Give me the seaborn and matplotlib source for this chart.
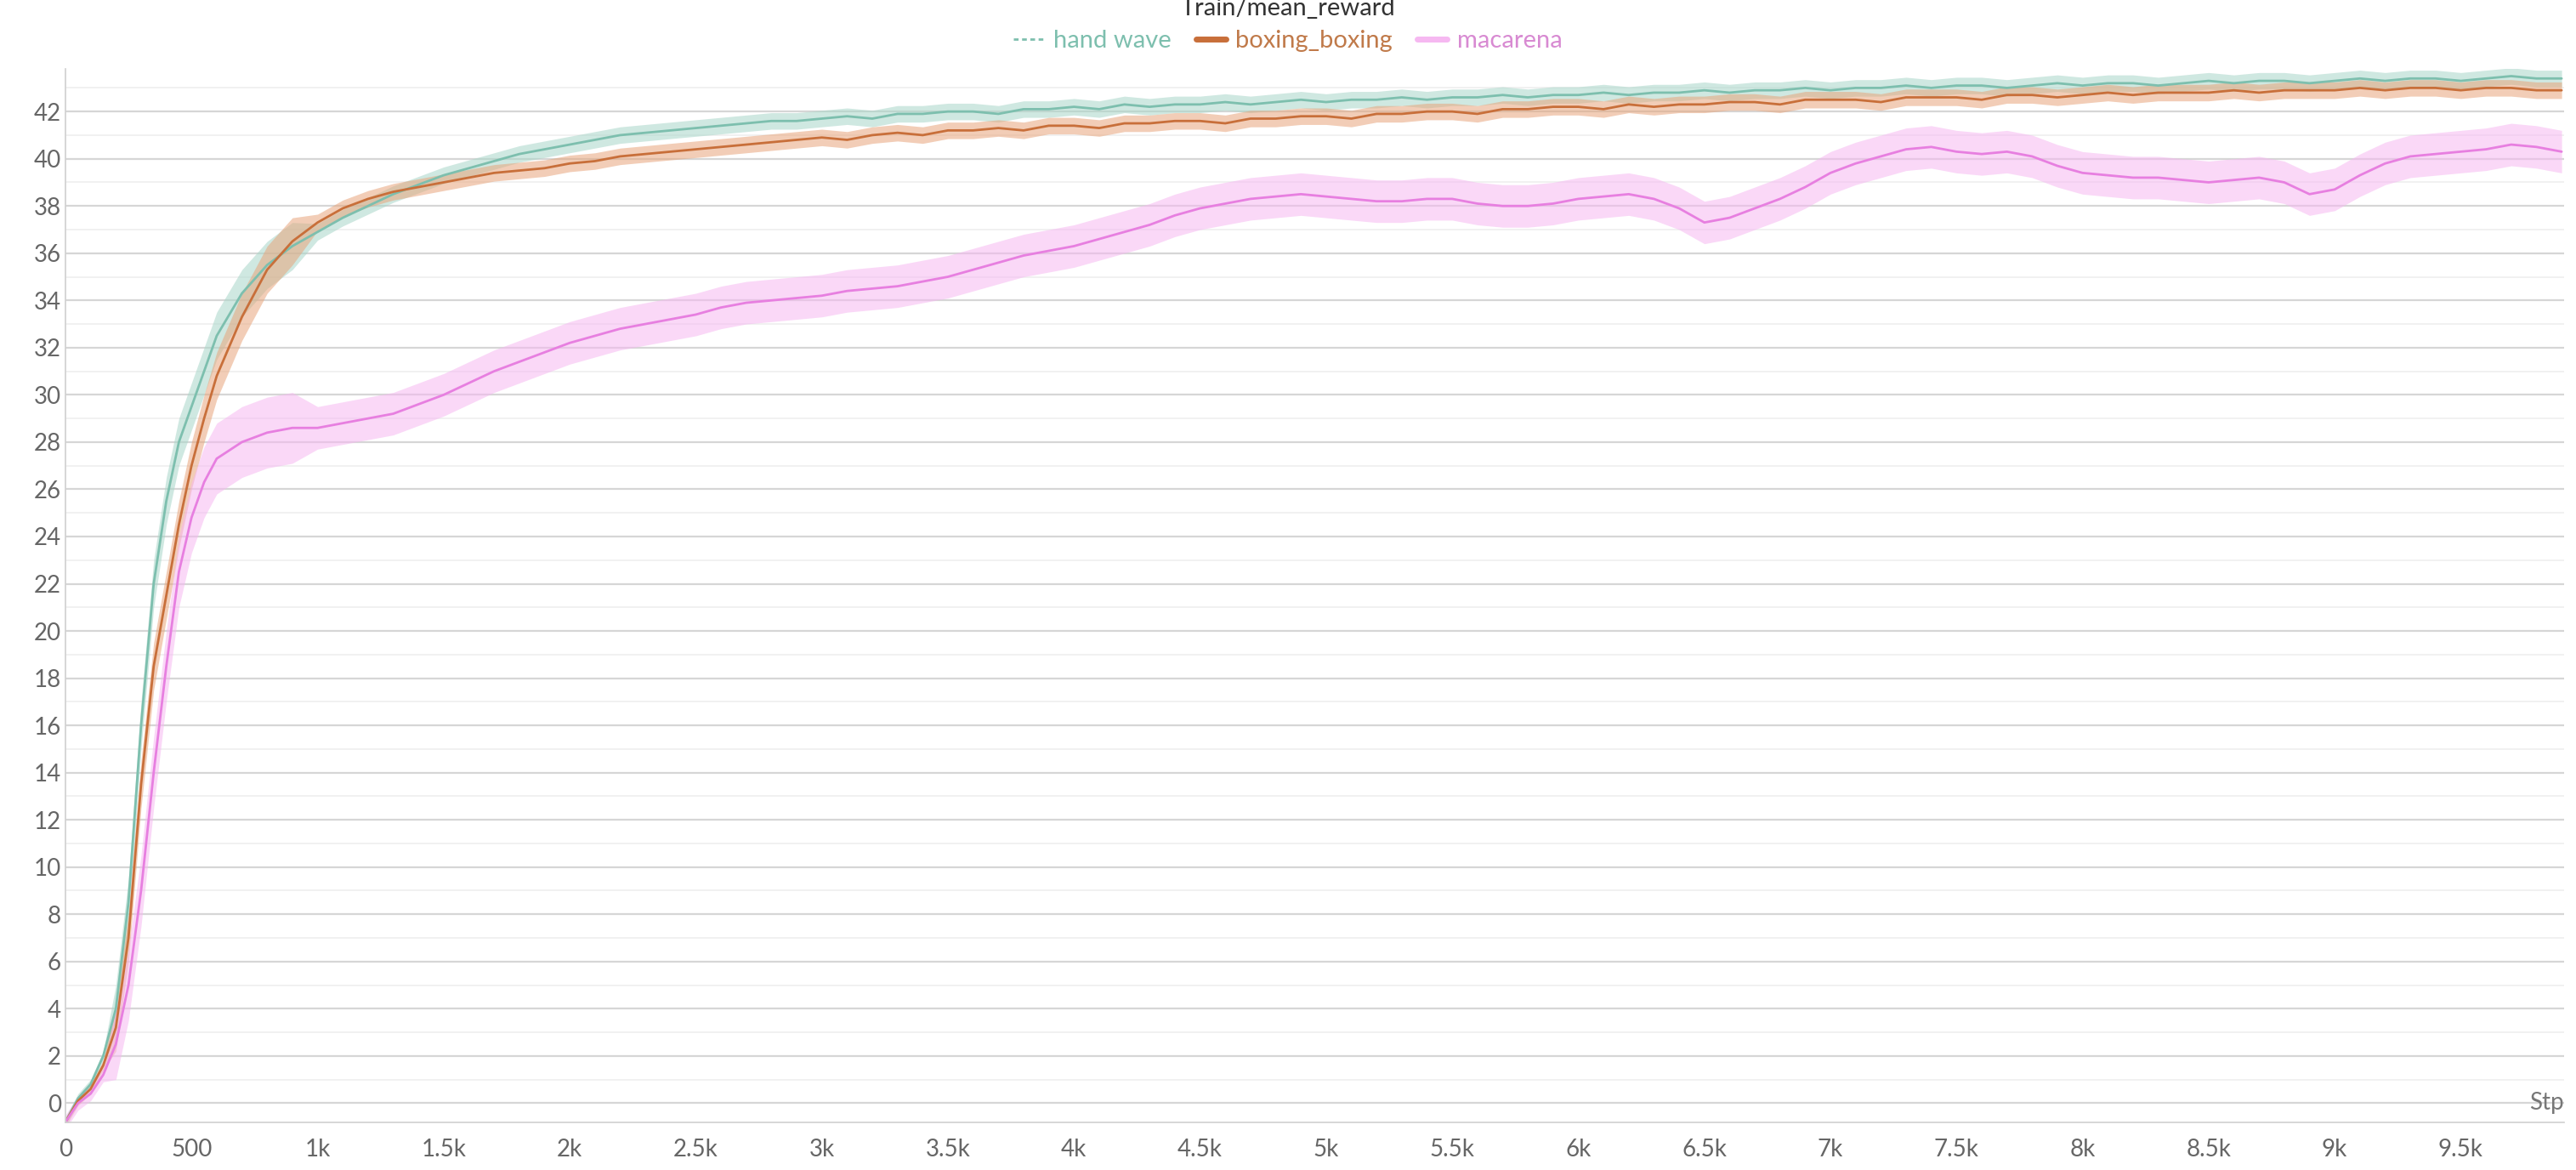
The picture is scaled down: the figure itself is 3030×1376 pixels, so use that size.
import numpy as np
import pandas as pd
import seaborn as sns
import matplotlib.pyplot as plt
from matplotlib.lines import Line2D
from matplotlib.ticker import FuncFormatter, MultipleLocator

sns.set_theme(style="white")
plt.rcParams['font.family'] = ['Lato', 'DejaVu Sans']

steps = list(range(0, 600, 50)) + list(range(600, 10000, 100))

hand_wave = [-0.8,0.2,0.8,2.0,4.0,8.5,16.0,22.0,25.5,28.0,29.5,31.0,
 32.5,34.3,35.5,36.3,36.9,37.5,38.0,38.5,38.9,39.3,39.6,39.9,40.2,40.4,40.6,40.8,41.0,41.1,41.2,41.3,41.4,41.5,41.6,41.6,41.7,
 41.8,41.7,41.9,41.9,42.0,42.0,41.9,42.1,42.1,42.2,42.1,42.3,42.2,42.3,42.3,42.4,42.3,42.4,42.5,42.4,42.5,42.5,42.6,42.5,42.6,42.6,42.7,42.6,42.7,42.7,
 42.8,42.7,42.8,42.8,42.9,42.8,42.9,42.9,43.0,42.9,43.0,43.0,43.1,43.0,43.1,43.1,43.0,43.1,43.2,43.1,43.2,43.2,43.1,43.2,43.3,43.2,43.3,43.3,43.2,43.3,
 43.4,43.3,43.4,43.4,43.3,43.4,43.5,43.4,43.4]

boxing = [-0.8,0.1,0.6,1.6,3.2,7.0,13.5,18.5,21.5,24.5,27.0,29.0,
 30.8,33.3,35.3,36.5,37.3,37.9,38.3,38.6,38.8,39.0,39.2,39.4,39.5,39.6,39.8,39.9,40.1,40.2,40.3,40.4,40.5,40.6,40.7,40.8,40.9,
 40.8,41.0,41.1,41.0,41.2,41.2,41.3,41.2,41.4,41.4,41.3,41.5,41.5,41.6,41.6,41.5,41.7,41.7,41.8,41.8,41.7,41.9,41.9,42.0,42.0,41.9,42.1,42.1,42.2,42.2,
 42.1,42.3,42.2,42.3,42.3,42.4,42.4,42.3,42.5,42.5,42.5,42.4,42.6,42.6,42.6,42.5,42.7,42.7,42.6,42.7,42.8,42.7,42.8,42.8,42.8,42.9,42.8,42.9,42.9,42.9,
 43.0,42.9,43.0,43.0,42.9,43.0,43.0,42.9,42.9]

macarena = [-0.8,0.0,0.4,1.2,2.5,5.0,9.0,14.0,18.5,22.5,24.8,26.3,
 27.3,28.0,28.4,28.6,28.6,28.8,29.0,29.2,29.6,30.0,30.5,31.0,31.4,31.8,32.2,32.5,32.8,33.0,33.2,33.4,33.7,33.9,34.0,34.1,34.2,
 34.4,34.5,34.6,34.8,35.0,35.3,35.6,35.9,36.1,36.3,36.6,36.9,37.2,37.6,37.9,38.1,38.3,38.4,38.5,38.4,38.3,38.2,38.2,38.3,38.3,38.1,38.0,38.0,38.1,38.3,
 38.4,38.5,38.3,37.9,37.3,37.5,37.9,38.3,38.8,39.4,39.8,40.1,40.4,40.5,40.3,40.2,40.3,40.1,39.7,39.4,39.3,39.2,39.2,39.1,39.0,39.1,39.2,39.0,38.5,38.7,
 39.3,39.8,40.1,40.2,40.3,40.4,40.6,40.5,40.3]

series_names = ["hand wave", "boxing_boxing", "macarena"]
series_vals = [hand_wave, boxing, macarena]
band_start = [0.2, 0.2, 0.3]
band_early = [1.0, 1.0, 1.5]
band_late = [0.35, 0.35, 0.9]
line_colors = ["#7dbfae", "#c86f3a", "#e77fe0"]
band_colors = ["#a9d6c9", "#e8a57c", "#f6b8f1"]

fig = plt.figure(figsize=(30.3, 13.76), dpi=100)
ax = fig.add_axes([0.0254, 0.041, 0.97, 0.90])

for name, vals, bs, be, bl, lc, bc in zip(series_names, series_vals, band_start, band_early, band_late, line_colors, band_colors):
    n = len(vals)
    x = np.array(steps[:n])
    y = np.array(vals)
    hw = np.where(x < 200, bs, np.where(x < 1000, be, bl))
    ax.fill_between(x, y - hw, y + hw, color=bc, alpha=0.55, lw=0)
    df = pd.DataFrame({"step": x, "val": y})
    sns.lineplot(data=df, x="step", y="val", ax=ax, color=lc, lw=2.0)

ax.set_xlim(0, 9910)
ax.set_ylim(-0.8, 43.8)
ax.yaxis.set_major_locator(MultipleLocator(2))
ax.yaxis.set_minor_locator(MultipleLocator(1))
ax.xaxis.set_major_locator(MultipleLocator(500))
ax.xaxis.set_major_formatter(FuncFormatter(lambda v, p: "0" if v == 0 else (f"{v/1000:g}k" if v >= 1000 else f"{int(v)}")))
ax.grid(axis="y", which="major", color="#d6d6d6", lw=1.6)
ax.grid(axis="y", which="minor", color="#efefef", lw=1.2)
ax.tick_params(axis="both", labelsize=20, colors="#666666", length=0)
ax.tick_params(axis="x", length=8, color="#cccccc", width=1.2, pad=6)
for s in ["top", "right"]:
    ax.spines[s].set_visible(False)
for s in ["left", "bottom"]:
    ax.spines[s].set_color("#d0d0d0")
    ax.spines[s].set_linewidth(1.2)
ax.set_xlabel("")
ax.set_ylabel("")
ax.text(1.0, 0.0, "Stp", transform=ax.get_yaxis_transform(), fontsize=20, color="#777777", ha="right", va="center")

fig.text(0.5, 0.993, "Train/mean_reward", ha="center", va="center", fontsize=21, color="#333333")
handles = [Line2D([], [], color=line_colors[0], lw=2, ls=(0, (2, 1.5))),
           Line2D([], [], color=line_colors[1], lw=5),
           Line2D([], [], color=band_colors[2], lw=5)]
leg = fig.legend(handles, series_names, loc="center", bbox_to_anchor=(0.5, 0.965), ncol=3,
                 frameon=False, fontsize=21, handlelength=1.2, handletextpad=0.4, columnspacing=1.0)
for t, c in zip(leg.get_texts(), ["#7dbfae", "#c07a4a", "#d88ad2"]):
    t.set_color(c)

fig.savefig("out.png", dpi=100)
